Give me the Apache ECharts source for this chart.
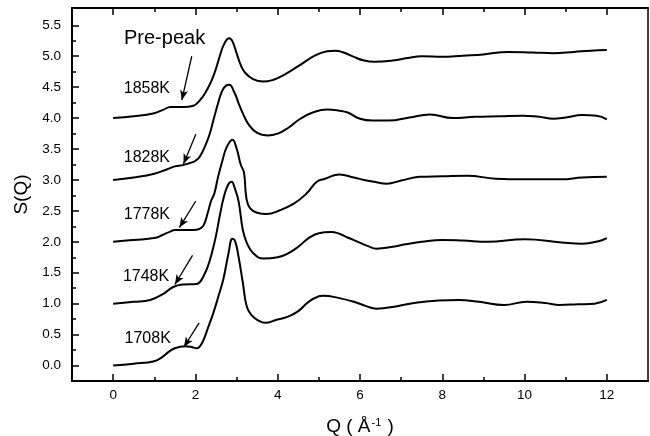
<!DOCTYPE html>
<html>
<head>
<meta charset="utf-8">
<script src="https://cdn.jsdelivr.net/npm/echarts@6/dist/echarts.min.js"></script>
<style>
  html, body { margin: 0; padding: 0; background: #fff; }
  #chart { width: 650px; height: 436px; }
</style>
</head>
<body>
<div id="chart"></div>
<script>
// Structure factor S(Q) at five temperatures, each curve shifted up by 1.0
const temperatures = ['1708K', '1748K', '1778K', '1828K', '1858K'];

const sq1708 = [[0,0.00],[0.5,0.03],[1.0,0.07],[1.2,0.14],[1.35,0.22],[1.5,0.28],[1.75,0.31],[1.9,0.30],[2.03,0.28],[2.12,0.32],[2.2,0.42],[2.3,0.60],[2.43,0.84],[2.55,1.10],[2.68,1.40],[2.8,1.80],[2.9,2.05],[2.97,2.00],[3.05,1.75],[3.15,1.35],[3.25,0.95],[3.37,0.81],[3.5,0.74],[3.7,0.69],[3.97,0.74],[4.25,0.79],[4.5,0.88],[4.75,1.03],[5.0,1.12],[5.1,1.13],[5.5,1.09],[5.9,1.02],[6.15,0.96],[6.4,0.92],[6.9,0.96],[7.4,1.02],[7.9,1.05],[8.4,1.06],[8.9,1.03],[9.5,0.98],[10.05,1.03],[10.5,1.01],[10.85,0.98],[11.3,0.99],[11.7,1.00],[12.0,1.06]];

const sq1748 = [[0,1.00],[0.5,1.03],[0.9,1.06],[1.22,1.16],[1.46,1.27],[1.71,1.31],[2.03,1.32],[2.11,1.35],[2.2,1.45],[2.3,1.60],[2.4,1.82],[2.5,2.10],[2.6,2.45],[2.7,2.75],[2.8,2.93],[2.88,2.97],[2.95,2.88],[3.05,2.65],[3.15,2.20],[3.25,1.98],[3.4,1.82],[3.65,1.73],[4.0,1.75],[4.22,1.80],[4.5,1.92],[4.75,2.06],[5.0,2.14],[5.3,2.16],[5.5,2.13],[5.7,2.07],[5.95,2.00],[6.2,1.93],[6.4,1.89],[6.8,1.92],[7.1,1.96],[7.5,2.00],[8.0,2.03],[8.5,2.02],[9.1,2.00],[10.0,2.04],[10.9,1.99],[11.4,1.97],[11.8,2.01],[12.0,2.06]];

const sq1778 = [[0,2.00],[0.5,2.03],[1.0,2.06],[1.2,2.11],[1.4,2.17],[1.5,2.19],[1.8,2.19],[1.95,2.19],[2.1,2.21],[2.2,2.27],[2.3,2.47],[2.38,2.66],[2.46,2.78],[2.55,3.05],[2.65,3.30],[2.76,3.53],[2.9,3.65],[3.0,3.51],[3.1,3.25],[3.18,3.12],[3.24,2.70],[3.33,2.54],[3.5,2.47],[3.73,2.45],[4.05,2.51],[4.4,2.62],[4.7,2.78],[4.95,2.97],[5.15,3.02],[5.5,3.09],[5.85,3.04],[6.1,3.00],[6.35,2.97],[6.65,2.94],[7.0,2.99],[7.45,3.05],[8.0,3.06],[8.6,3.07],[9.3,3.02],[10.0,3.01],[10.9,3.01],[11.4,3.04],[12.0,3.05]];

const sq1828 = [[0,3.00],[0.5,3.04],[1.0,3.10],[1.3,3.17],[1.5,3.22],[1.7,3.24],[1.85,3.27],[2.0,3.31],[2.1,3.37],[2.25,3.57],[2.35,3.75],[2.45,4.00],[2.55,4.24],[2.65,4.44],[2.75,4.53],[2.82,4.54],[2.95,4.41],[3.05,4.24],[3.15,4.08],[3.3,3.89],[3.5,3.76],[3.75,3.72],[4.0,3.75],[4.25,3.84],[4.55,3.99],[4.85,4.09],[5.2,4.14],[5.5,4.12],[5.7,4.09],[6.0,3.99],[6.3,3.96],[6.7,3.96],[7.2,4.01],[7.7,4.06],[8.25,4.00],[8.8,4.02],[9.4,4.03],[9.95,4.04],[10.35,4.02],[10.7,3.99],[11.0,4.01],[11.4,4.05],[11.75,4.04],[12.0,3.98]];

const sq1858 = [[0,4.00],[0.5,4.03],[1.0,4.08],[1.2,4.13],[1.4,4.18],[1.7,4.18],[1.95,4.20],[2.1,4.28],[2.25,4.42],[2.4,4.62],[2.5,4.80],[2.6,5.02],[2.7,5.20],[2.82,5.29],[2.9,5.24],[3.0,5.05],[3.1,4.86],[3.2,4.74],[3.4,4.63],[3.65,4.59],[3.9,4.62],[4.1,4.68],[4.5,4.84],[4.9,5.01],[5.2,5.08],[5.4,5.09],[5.6,5.06],[5.85,4.99],[6.1,4.93],[6.35,4.91],[6.8,4.93],[7.15,4.97],[7.5,5.00],[8.0,4.99],[8.5,5.01],[9.0,5.03],[9.6,5.07],[10.2,5.06],[10.7,5.05],[11.2,5.07],[11.6,5.09],[12.0,5.10]];

const curves = [sq1708, sq1748, sq1778, sq1828, sq1858];

// Axis ticks
const xMajor = [0, 2, 4, 6, 8, 10, 12];
const xMinor = [1, 3, 5, 7, 9, 11];
const yMajor = [0, 0.5, 1, 1.5, 2, 2.5, 3, 3.5, 4, 4.5, 5, 5.5];
const yMinor = [0.25, 0.75, 1.25, 1.75, 2.25, 2.75, 3.25, 3.75, 4.25, 4.75, 5.25];

// Where each temperature label sits, and the arrow pointing at its pre-peak (Q, S(Q))
const labelAt = [[0.84, 0.43], [0.80, 1.43], [0.82, 2.44], [0.82, 3.36], [0.82, 4.47]];
const arrows = [
  [[2.09, 0.69], [1.72, 0.30]],
  [[1.93, 1.78], [1.50, 1.31]],
  [[2.01, 2.66], [1.61, 2.23]],
  [[2.01, 3.74], [1.71, 3.26]],
  [[1.91, 5.00], [1.67, 4.29]]
];
const prePeakAt = [1.25, 5.29];

const FONT = '"Liberation Sans", Arial, Helvetica, sans-serif';
const X_RANGE = { min: -1, max: 13 };
const Y_RANGE = { min: -0.25, max: 5.78 };

const chart = echarts.init(document.getElementById('chart'), null, { renderer: 'canvas' });

function tickAxis(base, values, len, showLine, lineWidth) {
  return Object.assign({
    type: 'value',
    splitLine: { show: false },
    axisLine: { show: showLine, onZero: false, lineStyle: { color: '#000', width: lineWidth || 2 } },
    axisTick: { show: true, inside: true, length: len, customValues: values, lineStyle: { color: '#000', width: 1.5 } },
    axisLabel: { show: false }
  }, base);
}

const xAxes = [
  Object.assign(tickAxis(Object.assign({ position: 'bottom' }, X_RANGE), xMajor, 7, true), {
    axisLabel: {
      show: true, customValues: xMajor, margin: 7, color: '#000', fontSize: 13.5, fontFamily: FONT,
      formatter: v => String(v)
    },
    name: 'Q ( Å{s|-1} )',
    nameLocation: 'middle',
    nameGap: 36,
    nameTextStyle: {
      color: '#000', fontSize: 19, fontFamily: FONT,
      rich: { s: { fontSize: 11, fontFamily: FONT, color: '#000', padding: [0, 1, 8, 1] } }
    }
  }),
  tickAxis(Object.assign({ position: 'bottom' }, X_RANGE), xMinor, 4, false),
  tickAxis(Object.assign({ position: 'top' }, X_RANGE), xMajor, 7, true),
  tickAxis(Object.assign({ position: 'top' }, X_RANGE), xMinor, 4, false)
];

const yAxes = [
  Object.assign(tickAxis(Object.assign({ position: 'left' }, Y_RANGE), yMajor, 7, true), {
    axisLabel: {
      show: true, customValues: yMajor, margin: 11, color: '#000', fontSize: 13.5, fontFamily: FONT,
      formatter: v => Number(v).toFixed(1)
    },
    name: 'S(Q)',
    nameLocation: 'middle',
    nameGap: 40,
    nameRotate: 90,
    nameTextStyle: { color: '#000', fontSize: 19, fontFamily: FONT }
  }),
  tickAxis(Object.assign({ position: 'left' }, Y_RANGE), yMinor, 4, false),
  Object.assign(tickAxis(Object.assign({ position: 'right' }, Y_RANGE), [], 0, true, 1.5), {
    axisTick: { show: false }
  })
];

const series = curves.map((pts, i) => {
  const s = {
    name: temperatures[i],
    type: 'line',
    xAxisIndex: 0,
    yAxisIndex: 0,
    data: pts,
    smooth: 0.45,
    showSymbol: false,
    symbol: 'none',
    lineStyle: { color: '#000', width: 2 },
    itemStyle: { color: '#000' },
    markLine: {
      silent: true,
      symbol: ['none', 'arrow'],
      symbolSize: [6, 10],
      label: { show: false },
      lineStyle: { color: '#000', width: 1.3, type: 'solid' },
      data: [[{ coord: arrows[i][0] }, { coord: arrows[i][1] }]]
    },
    markPoint: {
      silent: true,
      symbol: 'rect',
      symbolSize: 1,
      itemStyle: { color: 'rgba(0,0,0,0)' },
      label: { show: true, position: 'inside', color: '#000', fontSize: 16, fontFamily: FONT },
      data: [{ coord: labelAt[i], label: { formatter: temperatures[i] } }]
    }
  };
  if (i === 4) {
    s.markPoint.data.push({ coord: prePeakAt, label: { formatter: 'Pre-peak', fontSize: 20 } });
  }
  return s;
});

chart.setOption({
  animation: false,
  backgroundColor: '#fff',
  grid: { left: 72, right: 2, top: 8, bottom: 55, containLabel: false, outerBoundsMode: 'none' },
  xAxis: xAxes,
  yAxis: yAxes,
  series: series
});
</script>
</body>
</html>
